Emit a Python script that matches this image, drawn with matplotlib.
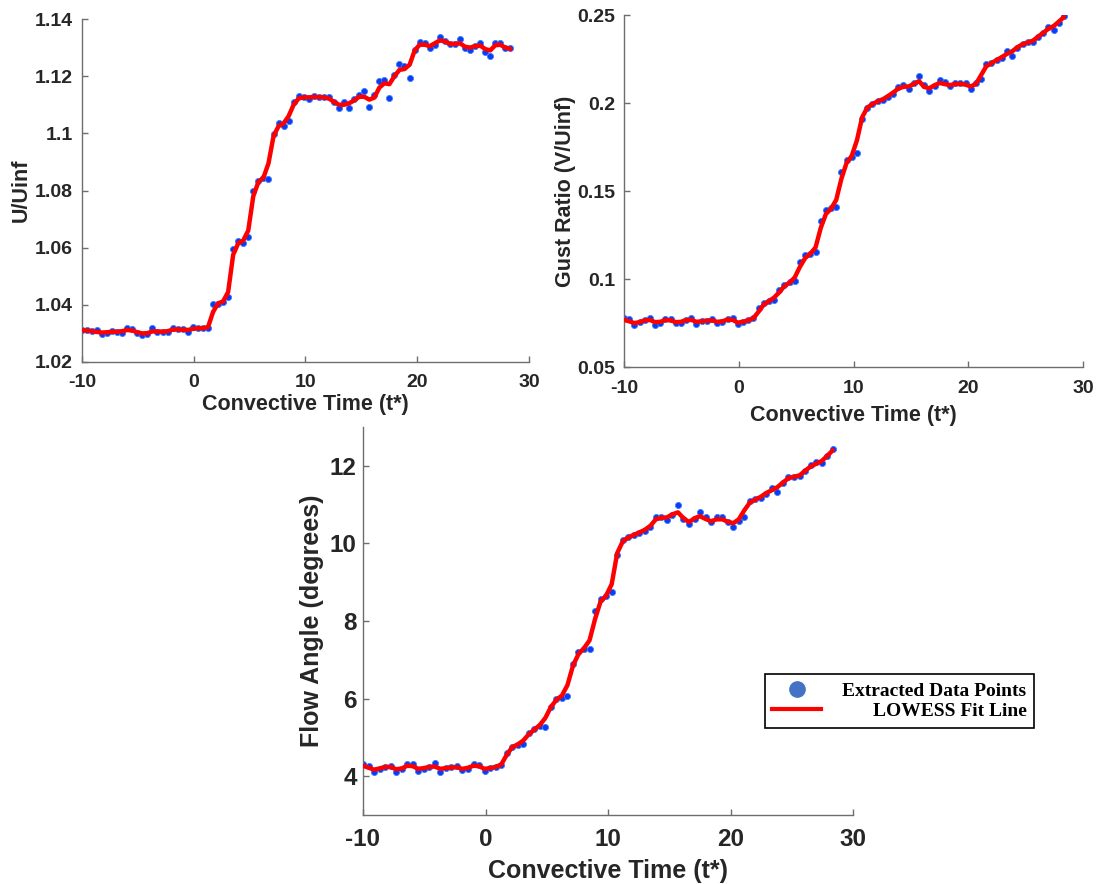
import matplotlib
matplotlib.use("Agg")
import matplotlib.pyplot as plt
from matplotlib.lines import Line2D

# convective time of the extracted points (shared by the three panels)
t_star = [-10.00, -9.55, -9.10, -8.65, -8.20, -7.75, -7.29, -6.84, -6.39, -5.94,
          -5.49, -5.04, -4.59, -4.14, -3.69, -3.24, -2.78, -2.33, -1.88, -1.43,
          -0.98, -0.53, -0.08, 0.37, 0.82, 1.28, 1.73, 2.18, 2.63, 3.08,
          3.53, 3.98, 4.43, 4.88, 5.33, 5.79, 6.24, 6.69, 7.14, 7.59,
          8.04, 8.49, 8.94, 9.39, 9.84, 10.30, 10.75, 11.20, 11.65, 12.10,
          12.55, 13.00, 13.45, 13.90, 14.35, 14.81, 15.26, 15.71, 16.16, 16.61,
          17.06, 17.51, 17.96, 18.41, 18.86, 19.32, 19.77, 20.22, 20.67, 21.12,
          21.57, 22.02, 22.47, 22.92, 23.37, 23.83, 24.28, 24.73, 25.18, 25.63,
          26.08, 26.53, 26.98, 27.43, 27.88, 28.34]

# U/Uinf
u_pts = [1.0312, 1.0312, 1.0310, 1.0312, 1.0297, 1.0300, 1.0310, 1.0306, 1.0303, 1.0318,
         1.0315, 1.0300, 1.0294, 1.0297, 1.0318, 1.0304, 1.0304, 1.0306, 1.0318, 1.0315,
         1.0315, 1.0306, 1.0324, 1.0320, 1.0318, 1.0320, 1.0403, 1.0403, 1.0410, 1.0426,
         1.0597, 1.0624, 1.0617, 1.0636, 1.0800, 1.0833, 1.0843, 1.0840, 1.0998, 1.1035,
         1.1026, 1.1043, 1.1108, 1.1131, 1.1128, 1.1121, 1.1131, 1.1128, 1.1128, 1.1126,
         1.1108, 1.1090, 1.1108, 1.1088, 1.1121, 1.1134, 1.1149, 1.1091, 1.1134, 1.1183,
         1.1187, 1.1122, 1.1204, 1.1241, 1.1236, 1.1192, 1.1292, 1.1321, 1.1317, 1.1297,
         1.1310, 1.1338, 1.1324, 1.1311, 1.1311, 1.1330, 1.1297, 1.1292, 1.1306, 1.1317,
         1.1286, 1.1272, 1.1317, 1.1317, 1.1297, 1.1297]
u_fit = [1.0311, 1.0310, 1.0308, 1.0305, 1.0303, 1.0304, 1.0306, 1.0306, 1.0308, 1.0312,
         1.0310, 1.0304, 1.0300, 1.0301, 1.0307, 1.0307, 1.0306, 1.0308, 1.0313, 1.0314,
         1.0313, 1.0312, 1.0316, 1.0318, 1.0318, 1.0322, 1.0375, 1.0405, 1.0412, 1.0445,
         1.0575, 1.0615, 1.0625, 1.0660, 1.0780, 1.0830, 1.0845, 1.0895, 1.0990, 1.1025,
         1.1035, 1.1060, 1.1100, 1.1122, 1.1126, 1.1126, 1.1127, 1.1127, 1.1126, 1.1122,
         1.1110, 1.1100, 1.1100, 1.1105, 1.1115, 1.1128, 1.1128, 1.1118, 1.1125, 1.1160,
         1.1175, 1.1172, 1.1200, 1.1222, 1.1225, 1.1240, 1.1290, 1.1310, 1.1310, 1.1305,
         1.1315, 1.1325, 1.1322, 1.1313, 1.1313, 1.1315, 1.1303, 1.1300, 1.1305, 1.1307,
         1.1295, 1.1290, 1.1308, 1.1310, 1.1300, 1.1295]

# gust ratio V/Uinf
g_pts = [0.0777, 0.0771, 0.0739, 0.0758, 0.0767, 0.0777, 0.0739, 0.0752, 0.0771, 0.0771,
         0.0748, 0.0752, 0.0767, 0.0780, 0.0744, 0.0761, 0.0761, 0.0773, 0.0752, 0.0758,
         0.0773, 0.0780, 0.0744, 0.0758, 0.0767, 0.0777, 0.0833, 0.0866, 0.0877, 0.0881,
         0.0938, 0.0966, 0.0985, 0.0989, 0.1099, 0.1136, 0.1142, 0.1155, 0.1331, 0.1392,
         0.1405, 0.1411, 0.1610, 0.1676, 0.1695, 0.1714, 0.1909, 0.1975, 0.1998, 0.2011,
         0.2017, 0.2036, 0.2051, 0.2093, 0.2102, 0.2080, 0.2112, 0.2153, 0.2106, 0.2070,
         0.2097, 0.2131, 0.2121, 0.2097, 0.2115, 0.2115, 0.2115, 0.2083, 0.2112, 0.2136,
         0.2225, 0.2229, 0.2244, 0.2254, 0.2295, 0.2267, 0.2316, 0.2339, 0.2348, 0.2348,
         0.2377, 0.2399, 0.2434, 0.2418, 0.2453, 0.2494]
g_fit = [0.0768, 0.0760, 0.0750, 0.0755, 0.0765, 0.0768, 0.0755, 0.0757, 0.0767, 0.0766,
         0.0755, 0.0757, 0.0767, 0.0768, 0.0757, 0.0760, 0.0764, 0.0765, 0.0757, 0.0760,
         0.0770, 0.0768, 0.0752, 0.0758, 0.0765, 0.0778, 0.0815, 0.0855, 0.0875, 0.0895,
         0.0925, 0.0960, 0.0980, 0.1010, 0.1070, 0.1120, 0.1145, 0.1180, 0.1290, 0.1370,
         0.1400, 0.1450, 0.1570, 0.1660, 0.1700, 0.1790, 0.1920, 0.1975, 0.1995, 0.2010,
         0.2022, 0.2040, 0.2060, 0.2083, 0.2093, 0.2095, 0.2110, 0.2125, 0.2092, 0.2085,
         0.2102, 0.2115, 0.2108, 0.2103, 0.2108, 0.2110, 0.2105, 0.2095, 0.2110, 0.2160,
         0.2210, 0.2228, 0.2245, 0.2262, 0.2280, 0.2295, 0.2318, 0.2335, 0.2345, 0.2355,
         0.2378, 0.2400, 0.2423, 0.2438, 0.2463, 0.2490]

# flow angle (degrees)
a_pts = [4.306, 4.263, 4.108, 4.177, 4.246, 4.263, 4.108, 4.194, 4.306, 4.306,
         4.134, 4.194, 4.246, 4.348, 4.108, 4.220, 4.246, 4.263, 4.160, 4.194,
         4.306, 4.288, 4.134, 4.220, 4.246, 4.280, 4.589, 4.760, 4.803, 4.837,
         5.103, 5.206, 5.292, 5.275, 5.789, 5.978, 6.021, 6.064, 6.896, 7.196,
         7.282, 7.282, 8.247, 8.573, 8.633, 8.744, 9.705, 10.090, 10.176, 10.219,
         10.262, 10.322, 10.416, 10.674, 10.691, 10.605, 10.734, 10.991, 10.631, 10.494,
         10.622, 10.820, 10.691, 10.562, 10.674, 10.691, 10.562, 10.434, 10.579, 10.674,
         11.103, 11.145, 11.180, 11.274, 11.437, 11.317, 11.566, 11.720, 11.720, 11.737,
         11.866, 12.020, 12.106, 12.080, 12.252, 12.432]
a_fit = [4.27, 4.22, 4.17, 4.20, 4.24, 4.24, 4.18, 4.20, 4.27, 4.26,
         4.19, 4.21, 4.24, 4.25, 4.19, 4.21, 4.23, 4.23, 4.19, 4.22,
         4.27, 4.26, 4.19, 4.21, 4.24, 4.30, 4.55, 4.75, 4.82, 4.92,
         5.08, 5.20, 5.32, 5.50, 5.78, 5.97, 6.08, 6.35, 6.85, 7.15,
         7.30, 7.50, 8.05, 8.50, 8.65, 8.95, 9.75, 10.05, 10.15, 10.22,
         10.28, 10.35, 10.45, 10.62, 10.66, 10.67, 10.75, 10.80, 10.65, 10.55,
         10.65, 10.70, 10.63, 10.57, 10.62, 10.62, 10.56, 10.52, 10.62, 10.85,
         11.05, 11.13, 11.20, 11.30, 11.37, 11.45, 11.57, 11.68, 11.72, 11.75,
         11.87, 11.98, 12.05, 12.12, 12.25, 12.40]

x_ticks = [-10, 0, 10, 20, 30]
x_label = "Convective Time (t*)"
legend_labels = ["Extracted Data Points", "LOWESS Fit Line"]

txt_col = "#262626"
plt.rcParams["font.family"] = ["Liberation Sans", "DejaVu Sans"]
plt.rcParams["font.weight"] = "bold"
plt.rcParams["axes.unicode_minus"] = False


def style_axes(ax, ylim, yticks, yticklabels, ylabel, tick_fs, lab_fs,
               xpad, ypad, xlabpad, ylabpad):
    ax.set_xlim(-10, 30)
    ax.set_ylim(ylim)
    ax.set_xticks(x_ticks)
    ax.set_yticks(yticks)
    ax.set_yticklabels(yticklabels)
    for s in ["top", "right"]:
        ax.spines[s].set_visible(False)
    for s in ["left", "bottom"]:
        ax.spines[s].set_color("#6e6e6e")
        ax.spines[s].set_linewidth(1.0)
    ax.tick_params(direction="in", length=4, width=1.0, color="#6e6e6e",
                   labelsize=tick_fs, labelcolor=txt_col)
    ax.tick_params(axis="x", pad=xpad)
    ax.tick_params(axis="y", pad=ypad)
    for lab in ax.get_xticklabels() + ax.get_yticklabels():
        lab.set_fontweight("bold")
    ax.set_xlabel(x_label, fontsize=lab_fs, fontweight="bold", color=txt_col, labelpad=xlabpad)
    ax.set_ylabel(ylabel, fontsize=lab_fs, fontweight="bold", color=txt_col, labelpad=ylabpad)


def draw_panel(ax, pts, fit):
    ax.plot(t_star, pts, linestyle="none", marker="o", markersize=4.4,
            color="#0a3cf5", markeredgewidth=0.6, markeredgecolor="#3d7bff", zorder=2)
    ax.plot(t_star, fit, color="#ff0000", linewidth=3.2, solid_capstyle="round", zorder=3)


fig = plt.figure(figsize=(11, 8.84), dpi=100)

ax1 = fig.add_axes([0.0745, 0.5905, 0.4064, 0.388])
draw_panel(ax1, u_pts, u_fit)
style_axes(ax1, (1.02, 1.14),
           [1.02, 1.04, 1.06, 1.08, 1.10, 1.12, 1.14],
           ["1.02", "1.04", "1.06", "1.08", "1.1", "1.12", "1.14"],
           "U/Uinf", 14, 15.5, 9, 6.5, 2, 2)

ax2 = fig.add_axes([0.5673, 0.5848, 0.4173, 0.398])
draw_panel(ax2, g_pts, g_fit)
style_axes(ax2, (0.05, 0.25),
           [0.05, 0.10, 0.15, 0.20, 0.25],
           ["0.05", "0.1", "0.15", "0.2", "0.25"],
           "Gust Ratio (V/Uinf)", 14, 15.5, 9, 6.5, 6, 1)

ax3 = fig.add_axes([0.33, 0.078, 0.4455, 0.439])
draw_panel(ax3, a_pts, a_fit)
style_axes(ax3, (3, 13),
           [4, 6, 8, 10, 12], ["4", "6", "8", "10", "12"],
           "Flow Angle (degrees)", 17.5, 18, 9, 4.5, 6, 4)

handles = [Line2D([], [], linestyle="none", marker="o", markersize=11, color="#4472c4"),
           Line2D([], [], color="#ff0000", linewidth=3)]
leg = fig.legend(handles, legend_labels, loc="center", bbox_to_anchor=(0.8177, 0.207),
                 prop={"family": ["Liberation Serif", "DejaVu Serif"], "weight": "bold", "size": 14},
                 frameon=True, fancybox=False, edgecolor="black", framealpha=1,
                 handlelength=2.5, handletextpad=1.1, labelspacing=0.15, borderpad=0.4,
                 borderaxespad=0)
leg.get_frame().set_linewidth(1.2)

# right-align the legend texts like the original box
fig.canvas.draw()
rend = fig.canvas.get_renderer()
widths = [t.get_window_extent(rend).width for t in leg.get_texts()]
rows = leg._legend_handle_box.get_children()[0].get_children()
for row, w in zip(rows, widths):
    row.sep += (max(widths) - w) * 72.0 / fig.dpi

fig.savefig("out.png", dpi=100)
